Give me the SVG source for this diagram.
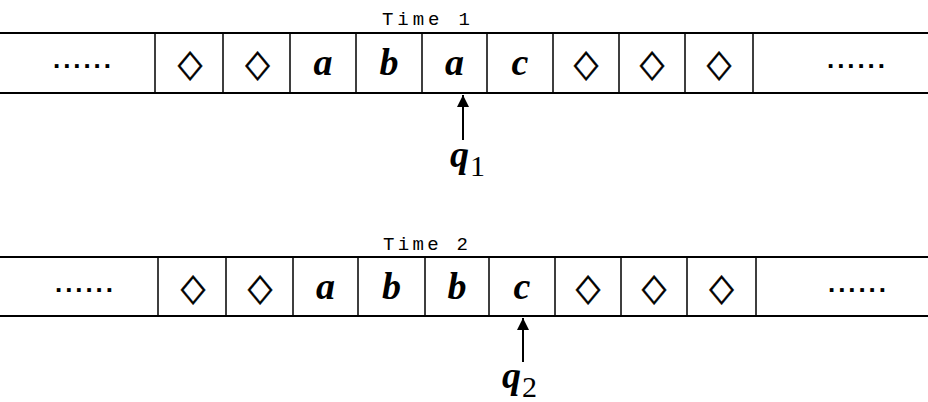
<svg xmlns="http://www.w3.org/2000/svg" width="928" height="402" viewBox="0 0 928 402">
<style>
  .ln{stroke:#000;stroke-width:2;fill:none}
  .vl{stroke:#000;stroke-width:1.5;fill:none}
  .lt{font-family:"Liberation Serif","Times New Roman",serif;font-style:italic;font-weight:bold;font-size:38px;text-anchor:middle;fill:#000}
  .dm{font-family:"DejaVu Sans",sans-serif;font-size:32px;text-anchor:middle;fill:#000;stroke:#000;stroke-width:0.4}
  .dt{font-family:"Liberation Sans",Arial,sans-serif;font-weight:bold;font-size:26px;fill:#000}
  .tm{font-family:"Liberation Mono","Courier New",monospace;font-size:19px;fill:#000}
  .q{font-family:"Liberation Serif","Times New Roman",serif;font-style:italic;font-weight:bold;font-size:38px;fill:#000}
  .qs{font-family:"Liberation Serif","Times New Roman",serif;font-style:normal;font-weight:normal;font-size:30px}
</style>
<defs>
  <marker id="ah" viewBox="0 0 10 10" refX="10" refY="5" markerWidth="13" markerHeight="12" markerUnits="userSpaceOnUse" orient="auto">
    <path d="M0,0 L10,5 L0,10 Z" fill="#000"/>
  </marker>
</defs>
<rect width="928" height="402" fill="#fff"/>

<g id="tape1">
  <text class="tm" x="382" y="25" textLength="88" lengthAdjust="spacing">Time 1</text>
  <line class="ln" x1="0" y1="33" x2="928" y2="33"/>
  <line class="ln" x1="0" y1="93" x2="928" y2="93"/>
  <path class="vl" d="M155,33V93M223,33V93M290,33V93M356,33V93M422,33V93M487,33V93M553,33V93M619,33V93M685,33V93M753,33V93"/>
  <text class="dt" x="53" y="68" textLength="58" lengthAdjust="spacing">......</text>
  <text class="dm" transform="translate(190,76) scale(1,1.2)">◇</text>
  <text class="dm" transform="translate(257.5,76) scale(1,1.2)">◇</text>
  <text class="lt" x="323" y="75">a</text>
  <text class="lt" x="389" y="75">b</text>
  <text class="lt" x="454.5" y="75">a</text>
  <text class="lt" x="520" y="75">c</text>
  <text class="dm" transform="translate(586,76) scale(1,1.2)">◇</text>
  <text class="dm" transform="translate(652,76) scale(1,1.2)">◇</text>
  <text class="dm" transform="translate(719,76) scale(1,1.2)">◇</text>
  <text class="dt" x="827" y="68" textLength="58" lengthAdjust="spacing">......</text>
</g>

<g id="tape2">
  <text class="tm" x="383" y="250" textLength="85" lengthAdjust="spacing">Time 2</text>
  <line class="ln" x1="0" y1="257" x2="928" y2="257"/>
  <line class="ln" x1="0" y1="316" x2="928" y2="316"/>
  <path class="vl" d="M158,257V316M226,257V316M293,257V316M358,257V316M425,257V316M489,257V316M555,257V316M621,257V316M687,257V316M756,257V316"/>
  <text class="dt" x="55" y="292" textLength="58" lengthAdjust="spacing">......</text>
  <text class="dm" transform="translate(193,300) scale(1,1.2)">◇</text>
  <text class="dm" transform="translate(260,300) scale(1,1.2)">◇</text>
  <text class="lt" x="325.5" y="299">a</text>
  <text class="lt" x="391.5" y="299">b</text>
  <text class="lt" x="457" y="299">b</text>
  <text class="lt" x="522" y="299">c</text>
  <text class="dm" transform="translate(588,300) scale(1,1.2)">◇</text>
  <text class="dm" transform="translate(654,300) scale(1,1.2)">◇</text>
  <text class="dm" transform="translate(721.5,300) scale(1,1.2)">◇</text>
  <text class="dt" x="828" y="292" textLength="58" lengthAdjust="spacing">......</text>
</g>

<g id="q1">
  <text class="q" x="450" y="167">q<tspan class="qs" dx="1" dy="9">1</tspan></text>
</g>
<g id="q2">
  <text class="q" x="502" y="388">q<tspan class="qs" dx="1" dy="9">2</tspan></text>
</g>

<g id="connectors">
  <line class="ln" x1="463" y1="140" x2="463" y2="95" marker-end="url(#ah)"/>
  <line class="ln" x1="523" y1="362" x2="523" y2="318" marker-end="url(#ah)"/>
</g>
</svg>
